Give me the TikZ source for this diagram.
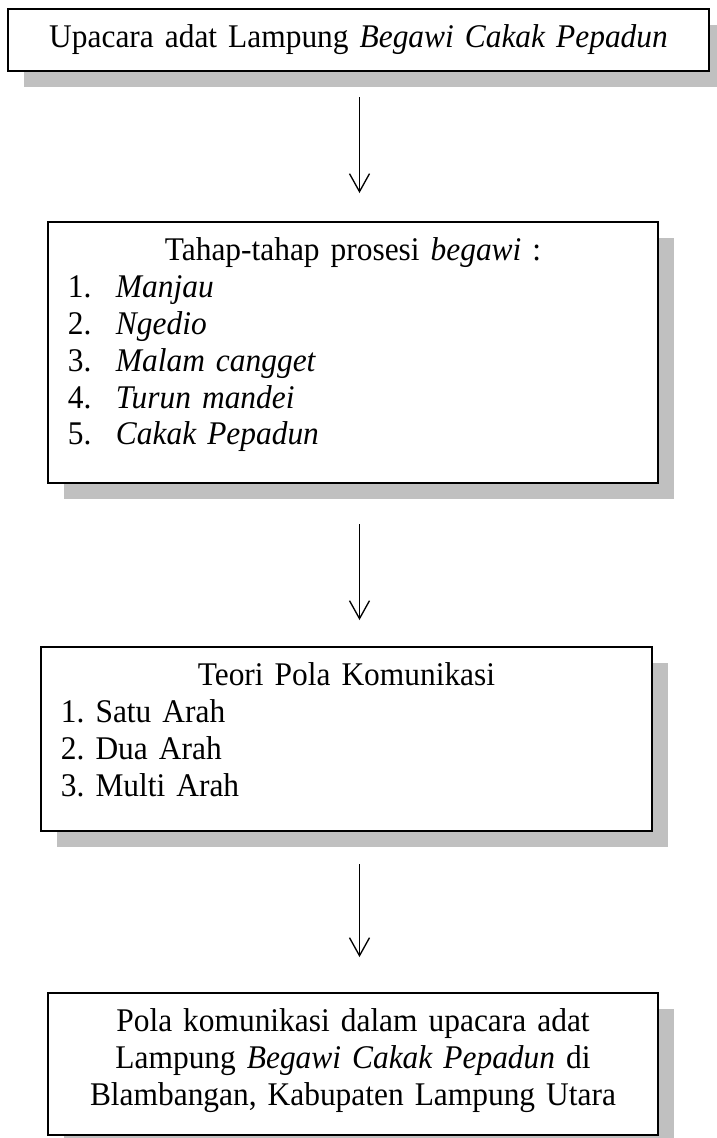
\documentclass[tikz,border=0pt]{standalone}
\usepackage{fontspec}
\setmainfont[FakeStretch=0.95]{Liberation Serif}
\usetikzlibrary{arrows.meta,shadows}
\definecolor{shadowgray}{RGB}{192,192,192}
\newcommand{\listno}[1]{\makebox[18pt][l]{#1}}
\frenchspacing

\begin{document}
\begin{tikzpicture}[x=0.375pt, y=-0.375pt,
  box/.style={draw, line width=0.75pt, fill=white, anchor=north west,
    inner xsep=7.5pt, inner ysep=0pt, text height=14.6pt,
    font=\fontsize{12.4}{13.8}\selectfont,
    drop shadow={shadow xshift=6pt, shadow yshift=-6pt, fill=shadowgray, opacity=1}},
  flow/.style={line width=0.5pt, -{Straight Barb[length=6.75pt, width=7.5pt]}}]
\useasboundingbox (0,0) rectangle (716,1138);
\coordinate (col) at (359.5,0);

\node[box, text width=247.9pt, text depth=8.65pt, align=center] at (7,8) (b1)
  {Upacara adat Lampung \textit{Begawi Cakak Pepadun}};

\node[box, text width=213.75pt, text depth=83.3pt, align=left] at (47,221) (b2)
  {\makebox[\hsize]{Tahap-tahap prosesi \textit{begawi} :}\\
   \listno{1.}\textit{Manjau}\\
   \listno{2.}\textit{Ngedio}\\
   \listno{3.}\textit{Malam cangget}\\
   \listno{4.}\textit{Turun mandei}\\
   \listno{5.}\textit{Cakak Pepadun}};

\node[box, text width=214.1pt, text depth=54.4pt, align=left] at (40,646) (b3)
  {\makebox[\hsize]{Teori Pola Komunikasi}\\
   1. Satu Arah\\
   2. Dua Arah\\
   3. Multi Arah};

\node[box, text width=213.75pt, text depth=38.65pt, align=center] at (47,992) (b4)
  {Pola komunikasi dalam upacara adat\\
   Lampung \textit{Begawi Cakak Pepadun} di\\
   Blambangan, Kabupaten Lampung Utara};

\draw[flow, shorten <=9.4pt, shorten >=10.5pt] (b1.south -| col) -- (b2.north -| col);
\draw[flow, shorten <=15pt, shorten >=9.75pt] (b2.south -| col) -- (b3.north -| col);
\draw[flow, shorten <=12pt, shorten >=13.1pt] (b3.south -| col) -- (b4.north -| col);

\end{tikzpicture}
\end{document}
